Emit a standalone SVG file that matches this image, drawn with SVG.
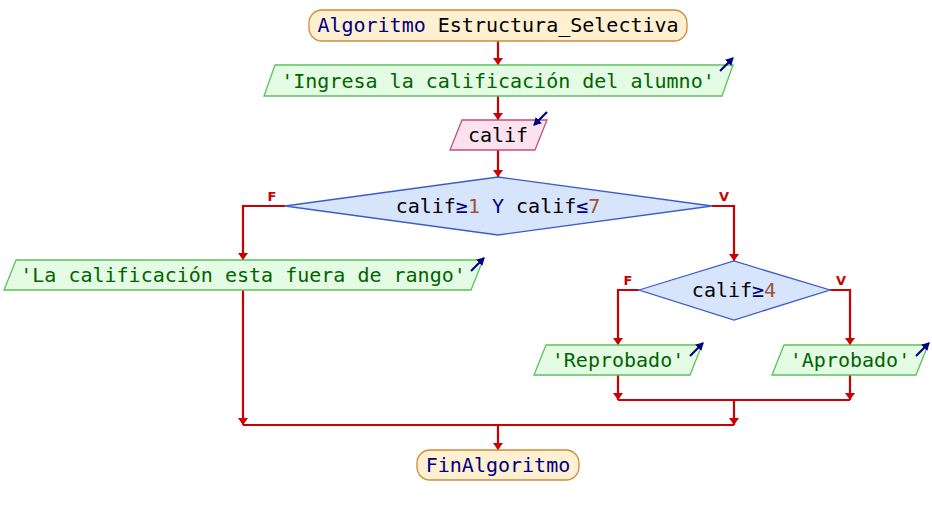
<svg xmlns="http://www.w3.org/2000/svg" width="932" height="515" viewBox="0 0 932 515">
<defs>
<style>
.t{font-family:"DejaVu Sans Mono","Liberation Mono",monospace;font-size:20px;text-anchor:middle}
.kw{fill:#000080}.str{fill:#006400}.id{fill:#000000}.op{fill:#000080}.num{fill:#a0522d}
.term{fill:#fff0d2;stroke:#cc8c3c;stroke-width:1.3}
.out{fill:#e4fce4;stroke:#5cc05c;stroke-width:1.3}
.in{fill:#fce2ee;stroke:#c0507c;stroke-width:1.3}
.dec{fill:#d6e4fc;stroke:#3c5cc8;stroke-width:1.3}
.c{fill:none;stroke:#cc0000;stroke-width:2.2}
.lab{font-family:"DejaVu Sans","Liberation Sans",sans-serif;font-size:13px;font-weight:bold;fill:#cc0000;text-anchor:middle}
.ic{stroke:#000080;stroke-width:2.2;fill:none}
</style>
<marker id="ah" viewBox="0 0 7 10" refX="7" refY="5" markerWidth="7" markerHeight="10" markerUnits="userSpaceOnUse" orient="auto"><path d="M0,0 L7,5 L0,10 z" fill="#cc0000"/></marker>
<marker id="ib" viewBox="0 0 8 9" refX="7" refY="4.5" markerWidth="8" markerHeight="9" markerUnits="userSpaceOnUse" orient="auto"><path d="M0,0 L8,4.5 L0,9 z" fill="#000080"/></marker>
</defs>
<g id="connectors">
<path class="c" d="M498,41 V65" marker-end="url(#ah)"/>
<path class="c" d="M498,96 V120" marker-end="url(#ah)"/>
<path class="c" d="M498,150 V177" marker-end="url(#ah)"/>
<path class="c" d="M285,206 H243 V260" marker-end="url(#ah)"/>
<path class="c" d="M712,206 H734 V261" marker-end="url(#ah)"/>
<path class="c" d="M639,290 H618 V345" marker-end="url(#ah)"/>
<path class="c" d="M830,290 H850 V345" marker-end="url(#ah)"/>
<path class="c" d="M618,375 V400" marker-end="url(#ah)"/>
<path class="c" d="M850,375 V400" marker-end="url(#ah)"/>
<path class="c" d="M618,400 H850"/>
<path class="c" d="M734,400 V425" marker-end="url(#ah)"/>
<path class="c" d="M243,290 V425" marker-end="url(#ah)"/>
<path class="c" d="M243,425 H734"/>
<path class="c" d="M498,425 V450" marker-end="url(#ah)"/>
<text class="lab" x="272" y="201">F</text>
<text class="lab" x="724" y="201">V</text>
<text class="lab" x="628" y="285">F</text>
<text class="lab" x="841" y="285">V</text>
</g>
<g id="start">
<rect class="term" x="309" y="10" width="378" height="31" rx="13"/>
<text class="t" x="498" y="32"><tspan class="kw">Algoritmo</tspan><tspan class="id"> Estructura_Selectiva</tspan></text>
</g>
<g id="out1">
<polygon class="out" points="275,65 733,65 722,96 264,96"/>
<text class="t str" x="498" y="88">'Ingresa la calificación del alumno'</text>
<path class="ic" d="M720,71 L733,58" marker-end="url(#ib)"/>
</g>
<g id="in1">
<polygon class="in" points="462,120 547,120 535,150 450,150"/>
<text class="t id" x="498" y="142">calif</text>
<path class="ic" d="M547,112 L534,125" marker-end="url(#ib)"/>
</g>
<g id="dec1">
<polygon class="dec" points="285,206 498,177 712,206 498,235"/>
<text class="t" x="498" y="213"><tspan class="id">calif</tspan><tspan class="op">≥</tspan><tspan class="num">1</tspan><tspan class="op"> Y </tspan><tspan class="id">calif</tspan><tspan class="op">≤</tspan><tspan class="num">7</tspan></text>
</g>
<g id="out2">
<polygon class="out" points="16,260 483,260 471,290 4,290"/>
<text class="t str" x="243" y="282">'La calificación esta fuera de rango'</text>
<path class="ic" d="M471,271 L484,258" marker-end="url(#ib)"/>
</g>
<g id="dec2">
<polygon class="dec" points="639,290 734,261 830,290 734,320"/>
<text class="t" x="734" y="297"><tspan class="id">calif</tspan><tspan class="op">≥</tspan><tspan class="num">4</tspan></text>
</g>
<g id="out3">
<polygon class="out" points="546,345 702,345 690,375 534,375"/>
<text class="t str" x="618" y="367">'Reprobado'</text>
<path class="ic" d="M690,356 L703,343" marker-end="url(#ib)"/>
</g>
<g id="out4">
<polygon class="out" points="784,345 928,345 916,375 772,375"/>
<text class="t str" x="850" y="367">'Aprobado'</text>
<path class="ic" d="M916,356 L929,343" marker-end="url(#ib)"/>
</g>
<g id="end">
<rect class="term" x="417" y="450" width="162" height="30" rx="13"/>
<text class="t kw" x="498" y="472">FinAlgoritmo</text>
</g>
</svg>
